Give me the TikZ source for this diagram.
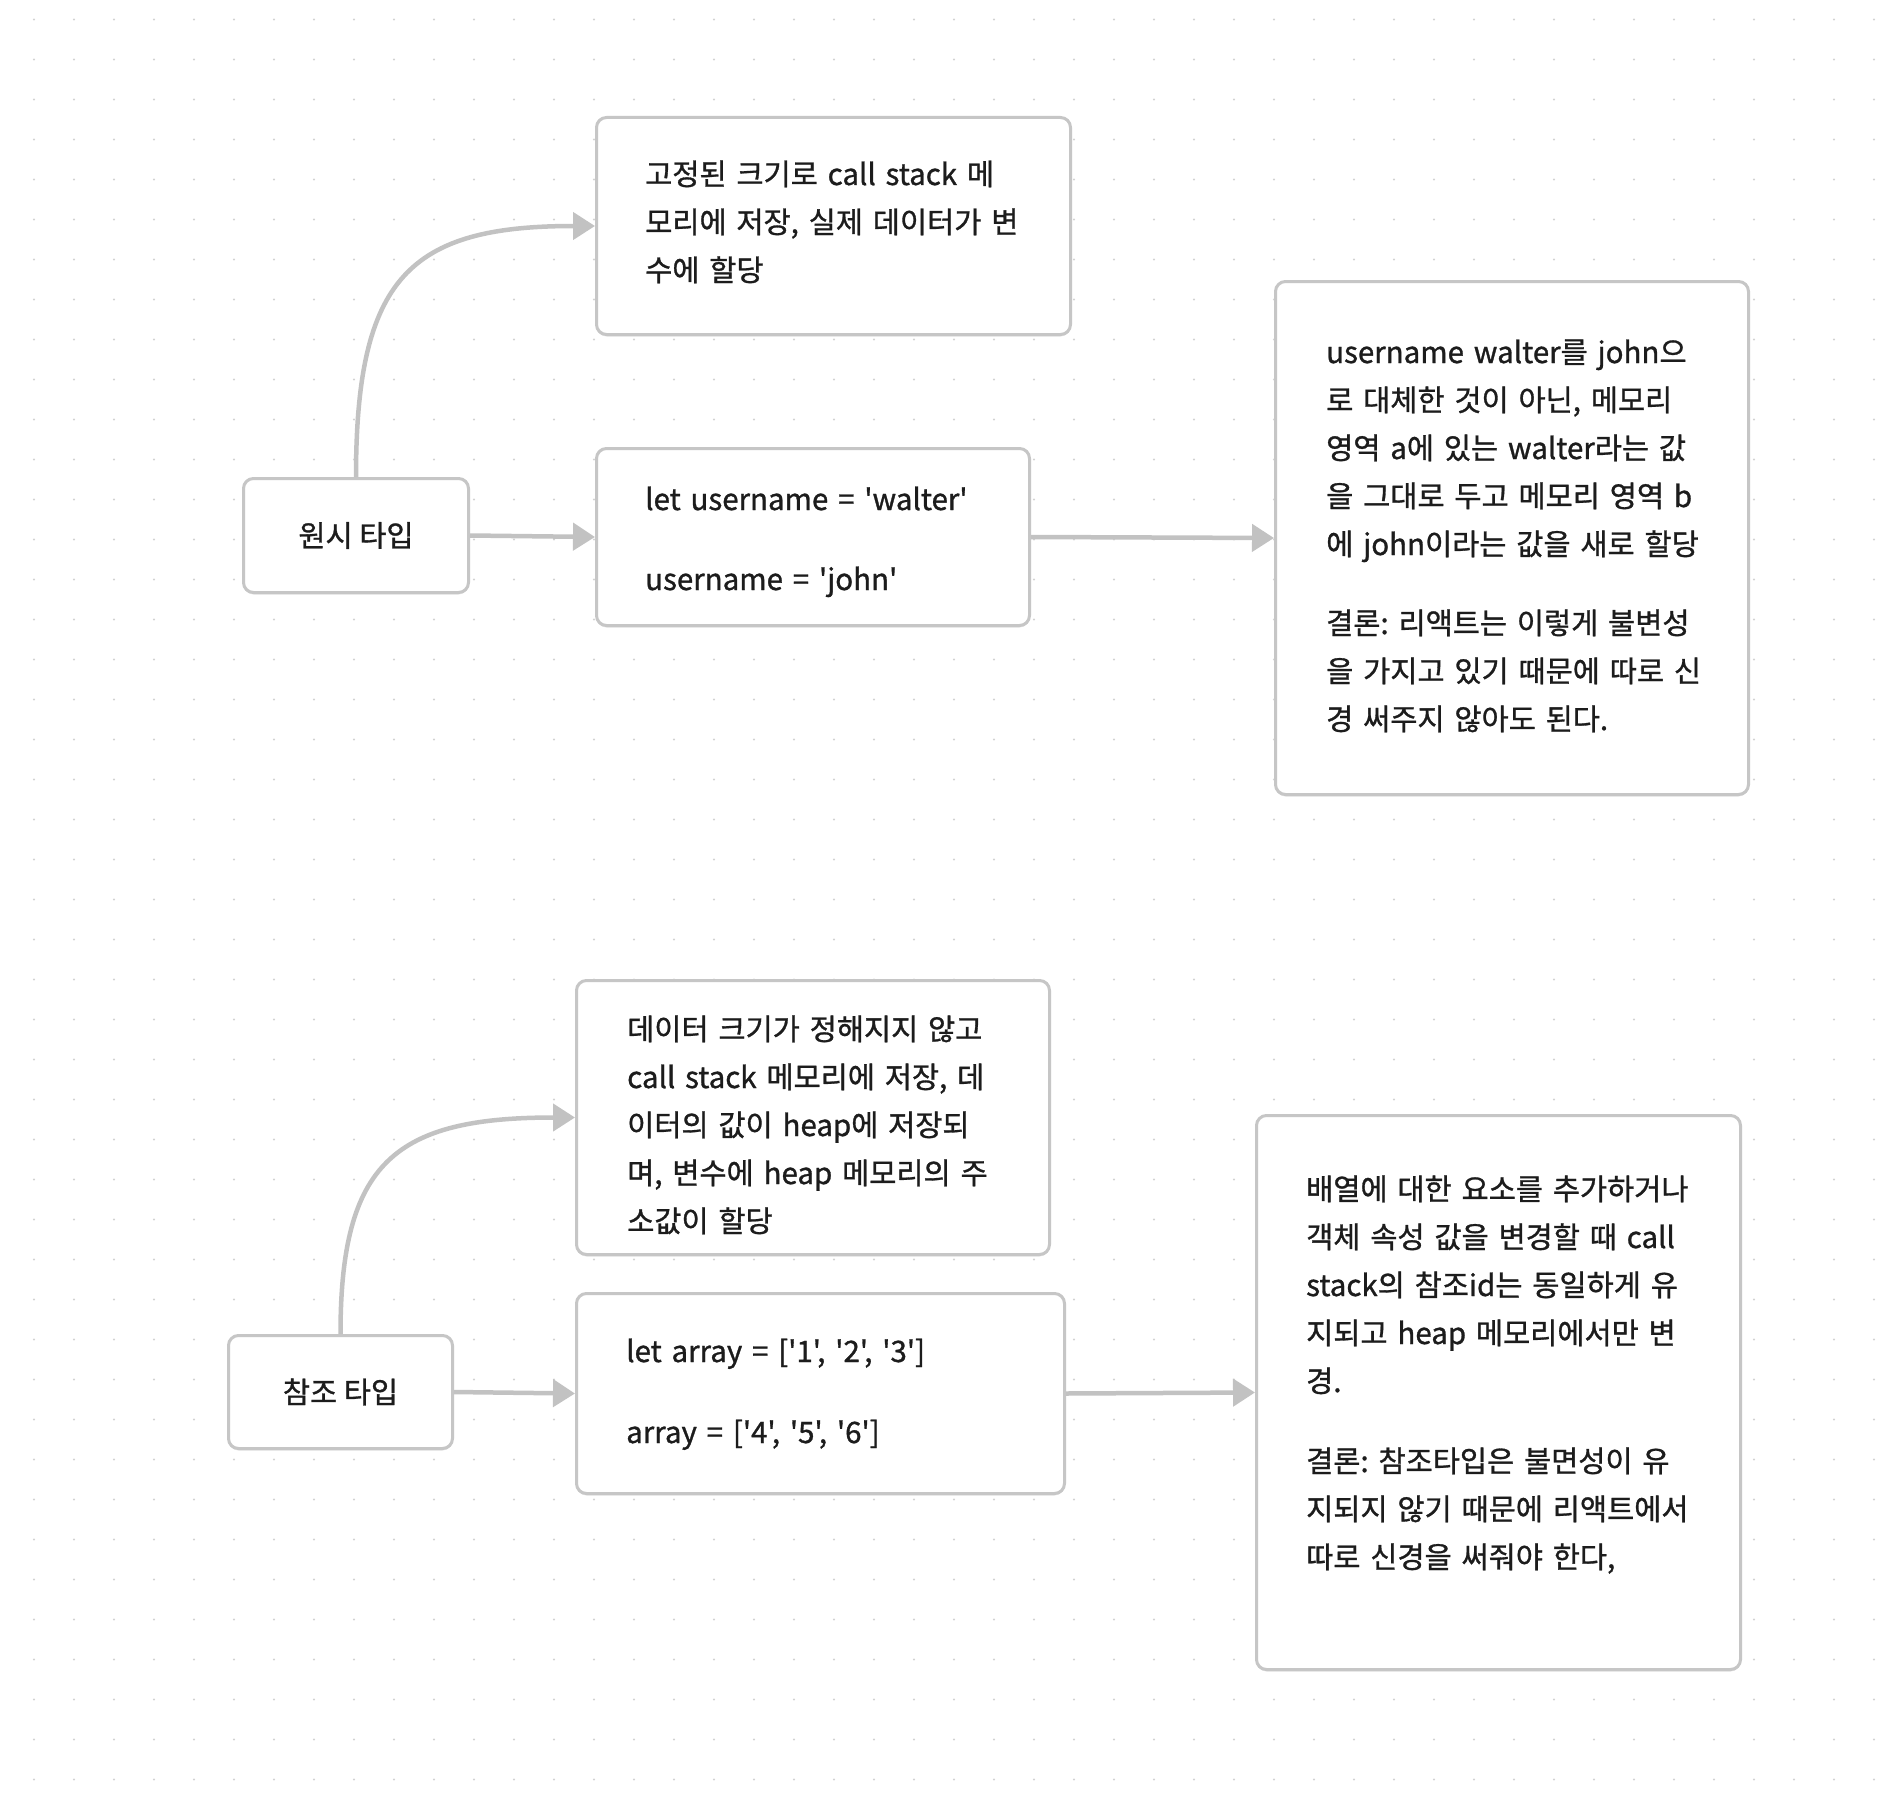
\documentclass[tikz,border=0pt]{standalone}
\usepackage{fontspec}
\setmainfont{Noto Sans CJK KR}[Ligatures=TeXOff, FakeBold=1]
\usetikzlibrary{arrows.meta,shadows}
\definecolor{boxline}{HTML}{C6C6C6}
\definecolor{arrowc}{HTML}{C2C2C2}
\definecolor{dotc}{HTML}{D2D2D2}
\definecolor{txtc}{HTML}{1C1C1C}
\tikzset{
  box/.style={draw=boxline, line width=3pt, rounded corners=10pt, fill=white, inner sep=0pt,
    drop shadow={shadow xshift=0pt, shadow yshift=-2pt, opacity=0.10, fill=black},
    font=\fontsize{29.5}{48}\selectfont, text=txtc},
  txt/.style={anchor=base west, align=left, text width=520pt, inner sep=0pt,
    font=\fontsize{29.5}{48}\selectfont\frenchspacing, text=txtc},
  conn/.style={draw=arrowc, line width=4.5pt, -{Triangle[length=22pt, width=27pt]}},
}
\begin{document}
\frenchspacing
\begin{tikzpicture}[x=1pt, y=-1pt]
\useasboundingbox (0,0) rectangle (1890,1798);
\fill[white] (0,0) rectangle (1890,1798);
\foreach \i in {0,...,46} {
  \foreach \j in {0,...,44} {
    \fill[dotc] ({34+40*\i},{19.5+40*\j}) circle[radius=1.2pt];
  }
}
% boxes
\node[box, minimum width=474pt, minimum height=217pt] (A) at (833.5,226) {};
\node[box, minimum width=225pt, minimum height=114pt] (prim) at (356,535.5) {원시 타입};
\node[box, minimum width=433pt, minimum height=177pt] (code1) at (813,537) {};
\node[box, minimum width=473pt, minimum height=513pt] (right1) at (1512,538) {};
\node[box, minimum width=473pt, minimum height=274pt] (B) at (813,1117.5) {};
\node[box, minimum width=224pt, minimum height=113pt] (ref) at (340.5,1392) {참조 타입};
\node[box, minimum width=488pt, minimum height=200pt] (code2) at (820.5,1393.5) {};
\node[box, minimum width=484pt, minimum height=554pt] (right2) at (1498.5,1392.5) {};
% texts
\node[txt] (Atxt) at (645,185) {고정된 크기로 call stack 메\\모리에 저장, 실제 데이터가 변\\수에 할당};
\node[txt] (c1txt) at (645,510) {let username = 'walter'\\[32pt]username = 'john'};
\node[txt] (r1txt) at (1326,363) {username walter를 john으\\로 대체한 것이 아닌, 메모리\\영역 a에 있는 walter라는 값\\을 그대로 두고 메모리 영역 b\\에 john이라는 값을 새로 할당\\[31pt]결론: 리액트는 이렇게 불변성\\을 가지고 있기 때문에 따로 신\\경 써주지 않아도 된다.};
\node[txt] (Btxt) at (627,1040) {데이터 크기가 정해지지 않고\\call stack 메모리에 저장, 데\\이터의 값이 heap에 저장되\\며, 변수에 heap 메모리의 주\\소값이 할당};
\node[txt] (c2txt) at (626,1362) {let array = ['1', '2', '3']\\[33pt]array = ['4', '5', '6']};
\node[txt] (r2txt) at (1306,1200) {배열에 대한 요소를 추가하거나\\객체 속성 값을 변경할 때 call\\stack의 참조id는 동일하게 유\\지되고 heap 메모리에서만 변\\경.\\[32pt]결론: 참조타입은 불면성이 유\\지되지 않기 때문에 리액트에서\\따로 신경을 써줘야 한다,};
% connectors
\draw[conn] (prim.north) .. controls +(0,-200) and +(-185,0) .. (A.west);
\draw[conn] (prim.east) -- (code1.west);
\draw[conn] (code1.east) -- (right1.west);
\draw[conn] (ref.north) .. controls +(0,-172) and +(-180,0) .. (B.west);
\draw[conn] (ref.east) -- (code2.west);
\draw[conn] (code2.east) -- (right2.west);
\end{tikzpicture}
\end{document}
